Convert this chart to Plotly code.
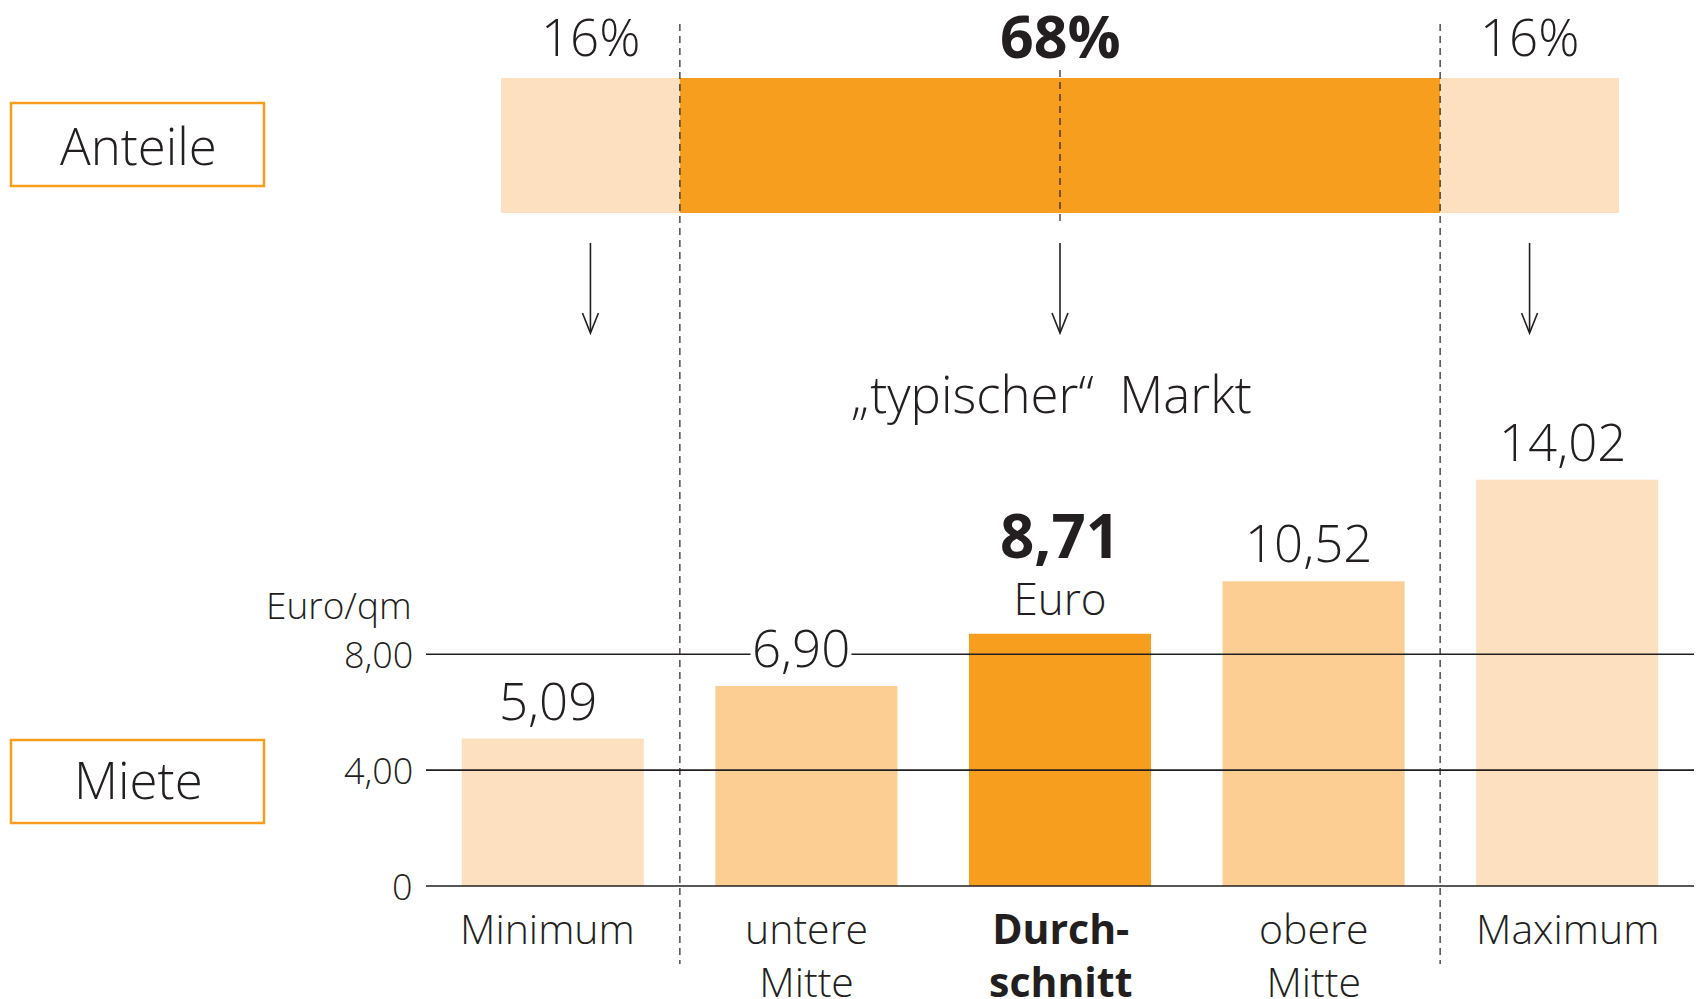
import plotly.graph_objects as go

# ---------------- data ----------------
share_labels = ["16%", "68%", "16%"]
shares = [16, 68, 16]
share_bold = [False, True, False]

categories = ["Minimum", "untere Mitte", "Durchschnitt", "obere Mitte", "Maximum"]
category_text = ["Minimum", "untere<br>Mitte", "<b>Durch-<br>schnitt</b>", "obere<br>Mitte", "Maximum"]
rents = [5.09, 6.90, 8.71, 10.52, 14.02]
rent_labels = ["5,09", "6,90", "8,71", "10,52", "14,02"]

tick_values = [0, 4, 8]
tick_text = ["0", "4,00", "8,00"]

# ---------------- style ----------------
W, H = 1698, 999
LIGHT = "#FDE0BF"
MID = "#FCCE94"
ORANGE = "#F79E1E"
INK = "#231F20"
FONT = "Open Sans, Lato, sans-serif"

bar_colors = [LIGHT, MID, ORANGE, MID, LIGHT]
share_colors = [LIGHT, ORANGE, LIGHT]


def px(x):
    return x / W


def py(y):
    return 1 - y / H


# y scale of the rent axis: zero at 886 px, 28.97 px per Euro
Y0, PPU = 886.0, 28.97
y_range = [-(H - Y0) / PPU, Y0 / PPU]

bases = [sum(shares[:i]) for i in range(len(shares))]
centers = [b + s / 2 for b, s in zip(bases, shares)]
bounds = [b + s for b, s in zip(bases, shares)][:-1]

fig = go.Figure()

# top stacked share bar
fig.add_trace(go.Bar(
    orientation="h", x=shares, base=bases, y=[0] * len(shares), width=1,
    marker=dict(color=share_colors, line=dict(width=0)),
    xaxis="x2", yaxis="y2", hoverinfo="skip",
))

# rent bars
fig.add_trace(go.Bar(
    x=categories, y=rents, width=0.718,
    marker=dict(color=bar_colors, line=dict(width=0)),
    xaxis="x", yaxis="y", hoverinfo="skip",
))

shapes = []
annotations = []

# grid lines (on top of bars)
for v, t in zip(tick_values, tick_text):
    shapes.append(dict(type="line", xref="paper", yref="y", x0=px(426), x1=px(1694),
                       y0=v, y1=v, line=dict(color=INK, width=1.6), layer="above"))
    annotations.append(dict(text=t, xref="paper", yref="y", x=px(415), y=v,
                            xanchor="right", yanchor="middle", showarrow=False,
                            font=dict(size=36, color=INK, family=FONT, weight=300)))

annotations.append(dict(text="Euro/qm", xref="paper", yref="paper", x=px(414), y=py(604),
                        xanchor="right", yanchor="middle", showarrow=False,
                        font=dict(size=37, color=INK, family=FONT, weight=300)))

# dashed separators between share segments
for b in bounds:
    shapes.append(dict(type="line", xref="x2", yref="paper", x0=b, x1=b,
                       y0=py(24), y1=py(964),
                       line=dict(color=INK, width=1.2, dash="7px,5px"), layer="above"))
# dashed centre marker of middle segment
mid_c = centers[1]
shapes.append(dict(type="line", xref="x2", yref="paper", x0=mid_c, x1=mid_c,
                   y0=py(70), y1=py(222),
                   line=dict(color=INK, width=1.2, dash="7px,5px"), layer="above"))

# arrows and percent labels
dx = 8 / 1118 * 100
for c, lab, bold in zip(centers, share_labels, share_bold):
    shapes.append(dict(type="line", xref="x2", yref="paper", x0=c, x1=c,
                       y0=py(243), y1=py(332), line=dict(color=INK, width=1.6)))
    shapes.append(dict(type="path", xref="x2", yref="paper",
                       path=f"M {c-dx},{py(313)} L {c},{py(333)} L {c+dx},{py(313)}",
                       line=dict(color=INK, width=1.6)))
    annotations.append(dict(text=f"<b>{lab}</b>" if bold else lab,
                            xref="x2", yref="paper", x=c, y=py(35 if bold else 36),
                            xanchor="center", yanchor="middle", showarrow=False,
                            font=dict(size=59 if bold else 51, color=INK, family=FONT,
                                      weight=700 if bold else 300)))

annotations.append(dict(text="„typischer“\u2002Markt", xref="paper", yref="paper",
                        x=px(1051), y=py(393), xanchor="center", yanchor="middle",
                        showarrow=False,
                        font=dict(size=51, color=INK, family=FONT, weight=300)))

# value labels above bars
for cat, v, lab in zip(categories, rents, rent_labels):
    if cat == "Durchschnitt":
        annotations.append(dict(
            text=f"<span style='font-size:60px'><b>{lab}</b></span><br>Euro",
            xref="x", yref="y", x=cat, y=v,
            xanchor="center", yanchor="bottom", yshift=4, showarrow=False,
            font=dict(size=44, color=INK, family=FONT, weight=300)))
    else:
        annotations.append(dict(text=lab, xref="x", yref="y", x=cat, y=v,
                                xanchor="center", yanchor="bottom", yshift=2, xshift=-5,
                                showarrow=False, bgcolor="white" if 6 < v < 8 else None,
                                font=dict(size=51, color=INK, family=FONT, weight=300)))

# category labels
for cat, t in zip(categories, category_text):
    annotations.append(dict(text=t, xref="x", yref="paper", x=cat, y=py(898),
                            xanchor="center", yanchor="top", showarrow=False,
                            xshift=-5 if cat == "Minimum" else 0,
                            font=dict(size=41, color=INK, family=FONT, weight=300)))

# left boxes
for label, (top, bottom), dy in [("Anteile", (103, 186), 0), ("Miete", (740, 823), -3)]:
    shapes.append(dict(type="rect", xref="paper", yref="paper", x0=px(11), x1=px(264),
                       y0=py(bottom), y1=py(top), line=dict(color=ORANGE, width=2.5),
                       fillcolor="rgba(0,0,0,0)"))
    annotations.append(dict(text=label, xref="paper", yref="paper", x=px(138),
                            y=py((top + bottom) / 2 + dy), xanchor="center", yanchor="middle",
                            showarrow=False,
                            font=dict(size=51, color=INK, family=FONT, weight=300)))

fig.update_layout(
    width=W, height=H,
    margin=dict(l=0, r=0, t=0, b=0),
    paper_bgcolor="white", plot_bgcolor="white",
    showlegend=False,
    font=dict(family=FONT, color=INK),
    xaxis=dict(domain=[px(426), px(1694)], range=[-0.5, 4.5], type="category",
               categoryorder="array", categoryarray=categories, visible=False,
               fixedrange=True),
    yaxis=dict(domain=[0, 1], range=y_range, visible=False, fixedrange=True),
    xaxis2=dict(domain=[px(501), px(1619)], range=[0, 100], anchor="y2", visible=False,
                fixedrange=True),
    yaxis2=dict(domain=[py(213), py(78)], range=[-0.5, 0.5], anchor="x2", visible=False,
                fixedrange=True),
    shapes=shapes,
    annotations=annotations,
)

fig.write_html("out.html", config={"displayModeBar": False},
               post_script="document.body.style.margin='0';document.body.style.overflow='hidden';")
